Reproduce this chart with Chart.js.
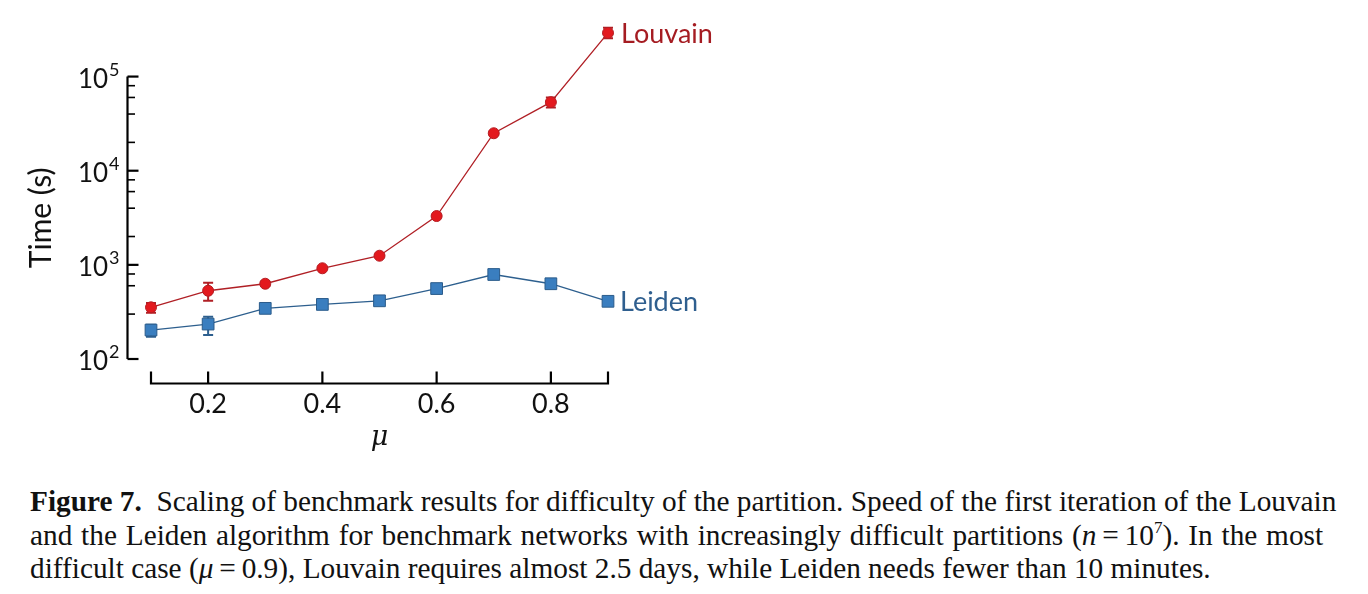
<!DOCTYPE html>
<html>
<head>
<meta charset="utf-8">
<script src="https://cdn.jsdelivr.net/npm/chart.js@4"></script>
<style>
  html, body { margin: 0; padding: 0; background: #fff; }
  #wrap { position: absolute; left: 0; top: 0; width: 760px; height: 470px; }
  #caption {
    position: absolute; left: 30px; top: 485px;
    font-family: "Liberation Serif", "DejaVu Serif", serif;
    font-size: 29.3px; line-height: 33.5px; color: #111;
    white-space: nowrap;
  }
  #caption b { font-weight: bold; }
  #caption sup { font-size: 17px; line-height: 0; vertical-align: 0; position: relative; top: -12px; }
</style>
</head>
<body>
<div id="wrap"><canvas id="timeChart" width="760" height="470"></canvas></div>
<div id="caption">
  <div><b>Figure 7.</b>&nbsp; Scaling of benchmark results for difficulty of the partition. Speed of the first iteration of the Louvain</div>
  <div style="word-spacing:1.5px">and the Leiden algorithm for benchmark networks with increasingly difficult partitions (<i>n</i>&#8201;=&#8201;10<sup>7</sup>). In the most</div>
  <div>difficult case (<i>μ</i>&#8201;=&#8201;0.9), Louvain requires almost 2.5 days, while Leiden needs fewer than 10 minutes.</div>
</div>
<script>
// valeurs (temps en secondes, echelle log)
const mu = [0.1, 0.2, 0.3, 0.4, 0.5, 0.6, 0.7, 0.8, 0.9];
const louvain = [354, 531, 630, 920, 1250, 3300, 25000, 53500, 291000];
const louvainLow = [310, 416, 600, 900, 1220, 3250, 24000, 47000, 256000];
const louvainHigh = [393, 645, 660, 940, 1280, 3350, 26000, 60000, 330000];
const leiden = [203, 235, 345, 380, 415, 560, 790, 630, 410];
const leidenLow = [172, 180, 335, 372, 405, 548, 775, 615, 400];
const leidenHigh = [231, 281, 355, 388, 425, 572, 805, 645, 420];
const yTicks = [100, 1000, 10000, 100000];
const xTicks = [0.2, 0.4, 0.6, 0.8];

const RED = '#b01f25';
const BLUE = '#2d5f8e';
const SANS = 'Lato, "DejaVu Sans", sans-serif';

const toPoints = (vals) => vals.map((v, i) => ({ x: mu[i], y: v }));

// barres d'erreur + axes "decales" a la maniere de la figure
const paperAxes = {
    id: 'paperAxes',
    beforeDatasetsDraw(chart) {
        const xs = chart.scales.x, ys = chart.scales.y;
        const ctx = chart.ctx;
        const bars = [[louvainLow, louvainHigh, RED], [leidenLow, leidenHigh, BLUE]];
        ctx.save();
        ctx.lineWidth = 2;
        bars.forEach(([lo, hi, col]) => {
            ctx.strokeStyle = col;
            mu.forEach((m, i) => {
                const px = xs.getPixelForValue(m);
                const y1 = ys.getPixelForValue(lo[i]);
                const y2 = ys.getPixelForValue(hi[i]);
                ctx.beginPath();
                ctx.moveTo(px, y1); ctx.lineTo(px, y2);
                ctx.moveTo(px - 5, y1); ctx.lineTo(px + 5, y1);
                ctx.moveTo(px - 5, y2); ctx.lineTo(px + 5, y2);
                ctx.stroke();
            });
        });
        ctx.restore();
    },
    afterDraw(chart) {
        const xs = chart.scales.x, ys = chart.scales.y;
        const ctx = chart.ctx;
        ctx.save();
        ctx.strokeStyle = '#000';
        ctx.fillStyle = '#111';
        ctx.lineWidth = 2.2;

        // axe y
        const ax = 127.5;
        const yTop = ys.getPixelForValue(yTicks[yTicks.length - 1]);
        const yBot = ys.getPixelForValue(yTicks[0]);
        ctx.beginPath();
        ctx.moveTo(ax, yTop); ctx.lineTo(ax, yBot);
        ctx.stroke();
        ys.ticks.forEach(t => {
            if (t.value < yTicks[0] || t.value > yTicks[yTicks.length - 1]) return;
            const py = ys.getPixelForValue(t.value);
            const major = yTicks.includes(t.value);
            ctx.lineWidth = major ? 2.2 : 1.6;
            ctx.beginPath();
            ctx.moveTo(ax, py); ctx.lineTo(ax + (major ? 11 : 7.5), py);
            ctx.stroke();
        });
        ctx.textBaseline = 'alphabetic';
        ctx.textAlign = 'left';
        yTicks.forEach(v => {
            const py = ys.getPixelForValue(v);
            const base = '10', ex = String(Math.round(Math.log10(v)));
            ctx.font = '18px ' + SANS;
            const ew = ctx.measureText(ex).width;
            ctx.font = '26px ' + SANS;
            const bw = ctx.measureText(base).width;
            const right = ax - 8;
            ctx.fillText(base, right - ew - bw - 1, py + 11);
            ctx.font = '18px ' + SANS;
            ctx.fillText(ex, right - ew, py - 1);
        });

        // axe x
        const ay = 383.5;
        const x0 = xs.getPixelForValue(mu[0]);
        const x1 = xs.getPixelForValue(mu[mu.length - 1]);
        ctx.lineWidth = 2.2;
        ctx.beginPath();
        ctx.moveTo(x0, ay - 12); ctx.lineTo(x0, ay); ctx.lineTo(x1, ay); ctx.lineTo(x1, ay - 12);
        ctx.stroke();
        ctx.font = '27px ' + SANS;
        ctx.textAlign = 'center';
        ctx.textBaseline = 'middle';
        xTicks.forEach(v => {
            const px = xs.getPixelForValue(v);
            ctx.beginPath();
            ctx.moveTo(px, ay - 12); ctx.lineTo(px, ay);
            ctx.stroke();
            ctx.fillText(v.toFixed(1), px, 404);
        });

        // titres des axes
        ctx.font = 'italic 27px "DejaVu Serif", serif';
        ctx.fillText('μ', (x0 + x1) / 2, 438);
        ctx.save();
        ctx.translate(41, (yTop + yBot) / 2);
        ctx.rotate(-Math.PI / 2);
        ctx.font = '30px ' + SANS;
        ctx.fillText('Time (s)', 0, 0);
        ctx.restore();

        // etiquettes directes des series
        ctx.font = '27px ' + SANS;
        ctx.textAlign = 'left';
        const last = mu.length - 1;
        ctx.fillStyle = '#a51c22';
        ctx.fillText('Louvain', x1 + 13, ys.getPixelForValue(louvain[last]) + 1);
        ctx.fillStyle = '#2f5f8f';
        ctx.fillText('Leiden', x1 + 12, ys.getPixelForValue(leiden[last]) + 1);
        ctx.restore();
    }
};

const chart = new Chart(document.getElementById('timeChart').getContext('2d'), {
    type: 'line',
    data: {
        datasets: [{
            label: 'Louvain',
            data: toPoints(louvain),
            borderColor: RED,
            borderWidth: 1.3,
            pointStyle: 'circle',
            pointRadius: 5.5,
            pointBackgroundColor: '#e3191e',
            pointBorderColor: '#b51d23',
            pointBorderWidth: 1,
            clip: false
        }, {
            label: 'Leiden',
            data: toPoints(leiden),
            borderColor: BLUE,
            borderWidth: 1.3,
            pointStyle: 'rect',
            pointRadius: 8.3,
            pointBackgroundColor: '#3a7ebf',
            pointBorderColor: '#2b5c8b',
            pointBorderWidth: 1,
            clip: false
        }]
    },
    options: {
        responsive: false,
        animation: false,
        devicePixelRatio: 1,
        layout: { padding: { left: 151, right: 152, top: 29.5, bottom: 111 } },
        plugins: { legend: { display: false }, tooltip: { enabled: false } },
        scales: {
            x: { type: 'linear', min: 0.1, max: 0.9, display: false },
            y: { type: 'logarithmic', min: 100, max: 316228, display: false }
        }
    },
    plugins: [paperAxes]
});
</script>
</body>
</html>
